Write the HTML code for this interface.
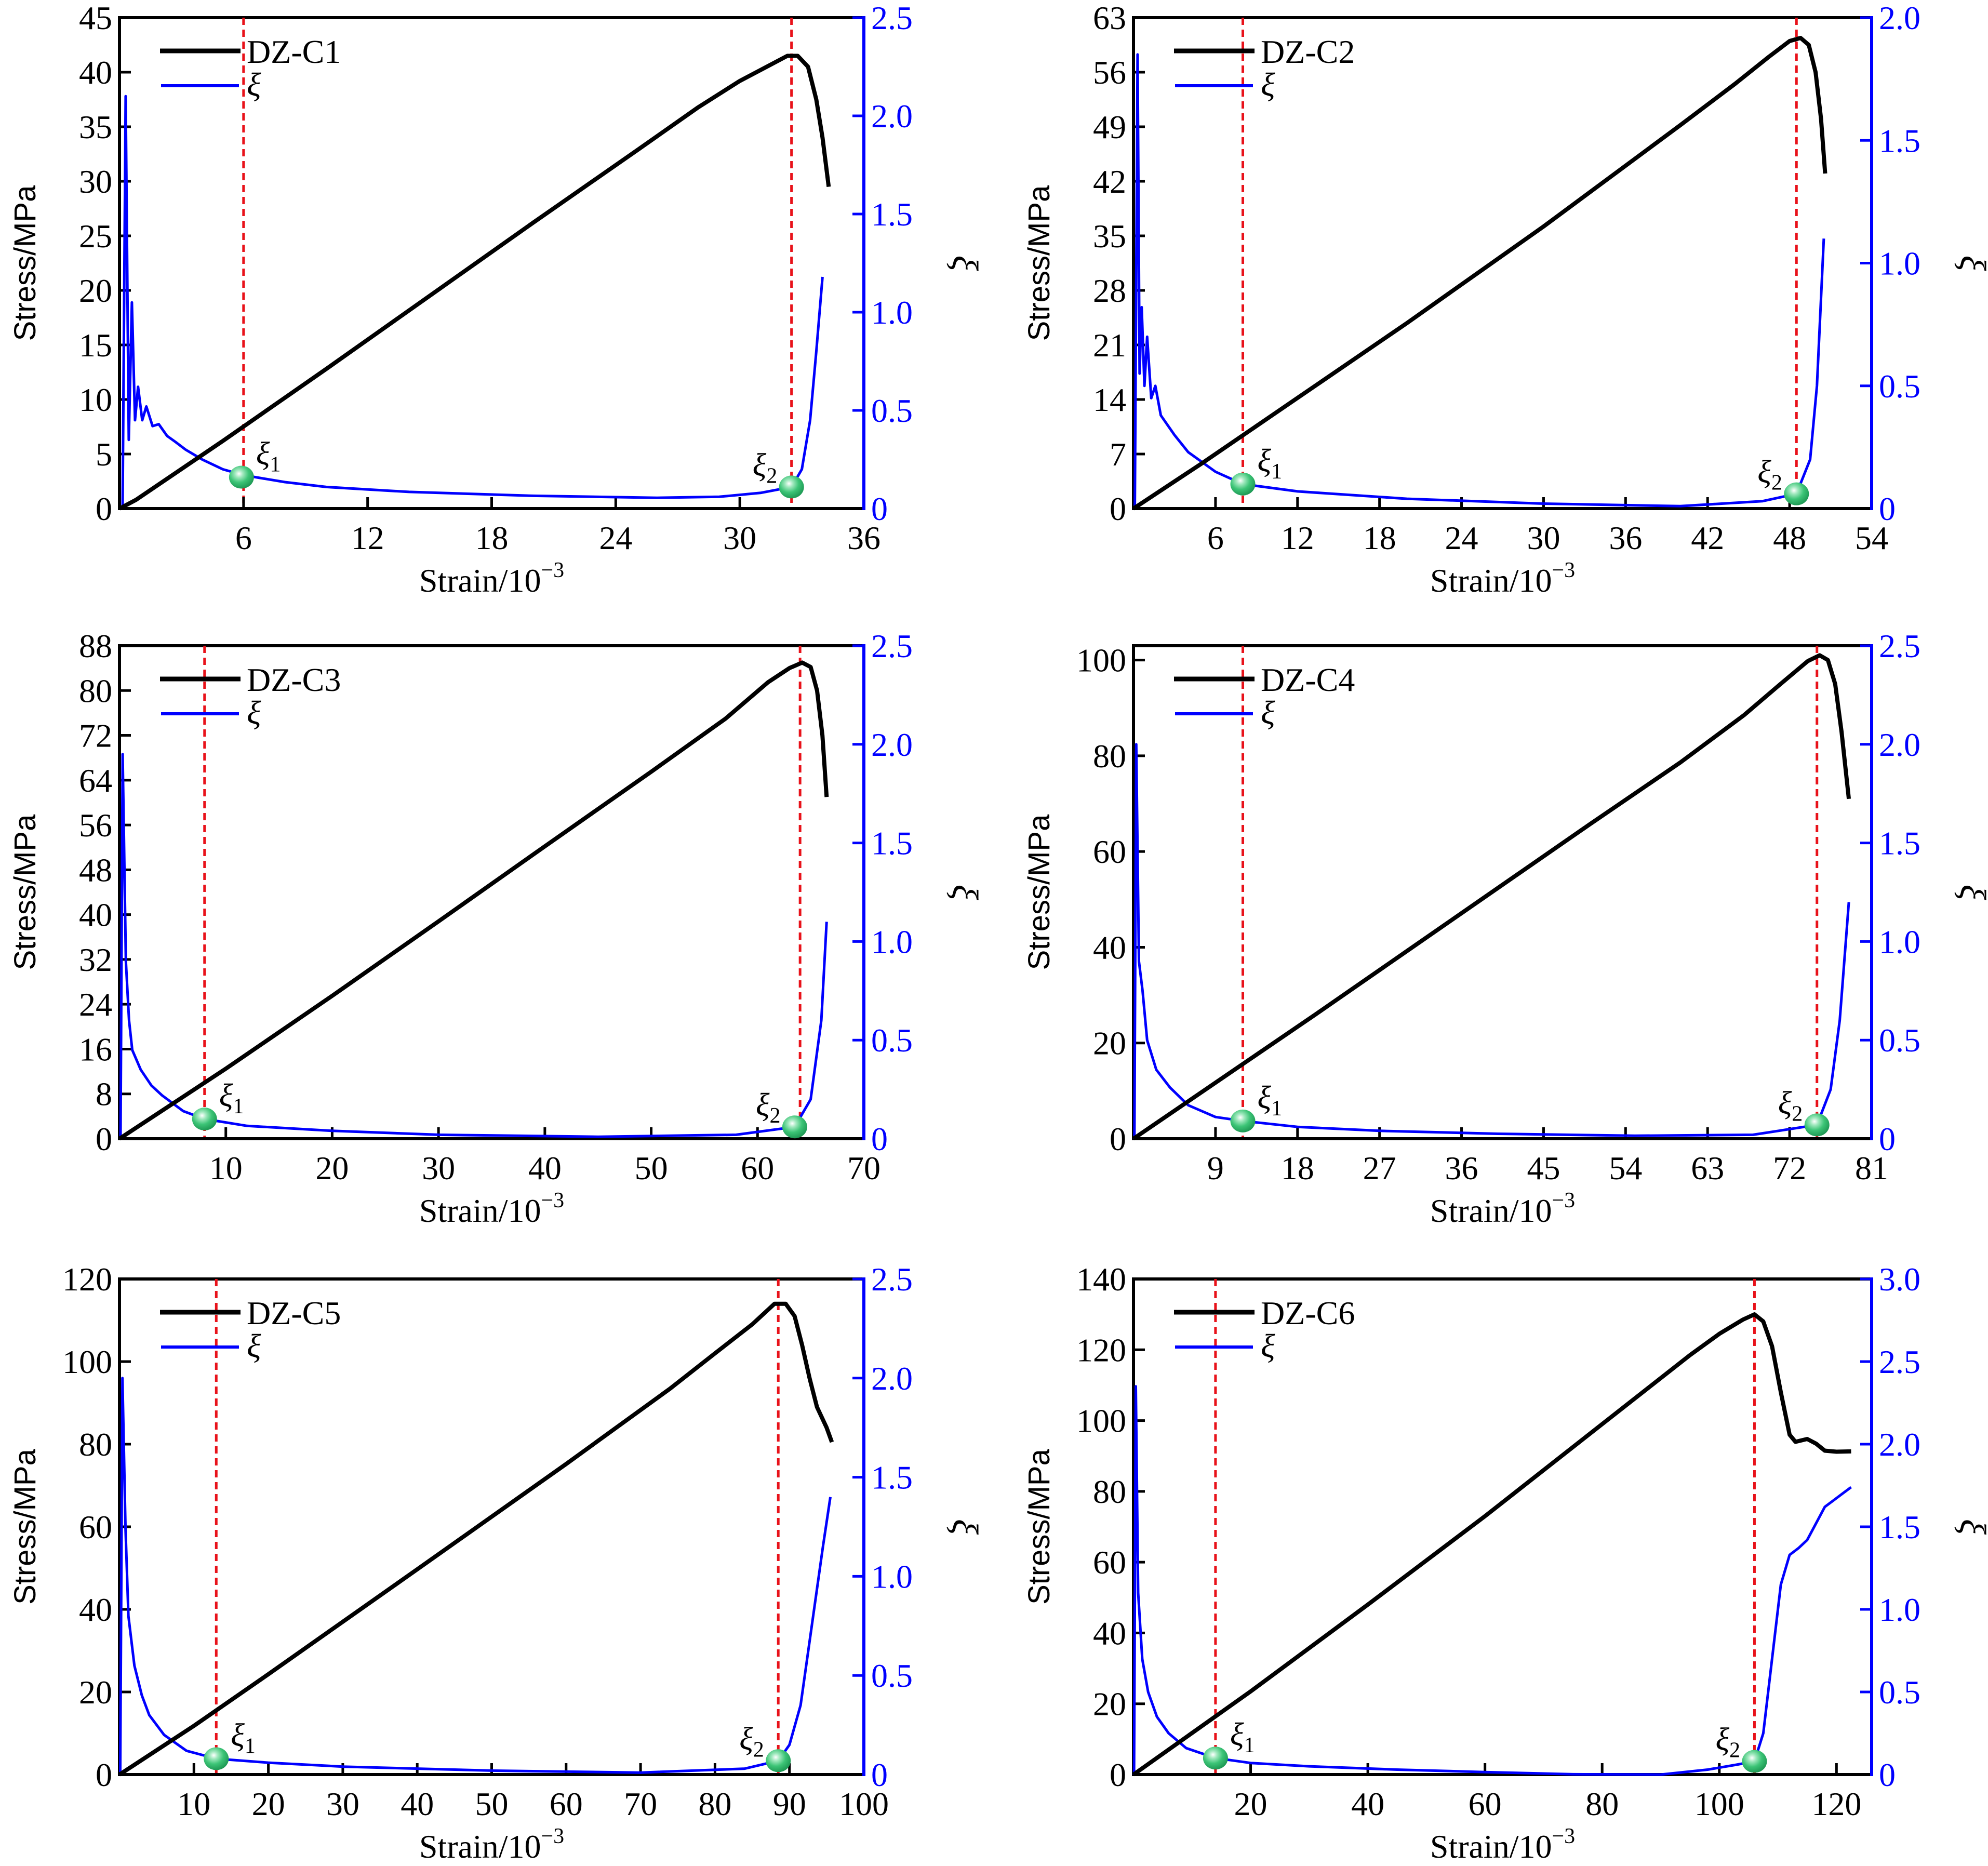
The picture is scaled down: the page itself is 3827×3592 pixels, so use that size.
<!DOCTYPE html>
<html><head><meta charset="utf-8">
<style>
html,body{margin:0;padding:0;background:#fff;}
svg{display:block;}
text{font-family:"Liberation Serif","DejaVu Serif",serif;}
</style></head>
<body>
<svg id="fig" xmlns="http://www.w3.org/2000/svg" width="3827" height="3592" viewBox="0 0 3827 3592">
<defs>
<radialGradient id="ball" cx="0.4" cy="0.35" r="0.65">
<stop offset="0" stop-color="#ffffff"/>
<stop offset="0.25" stop-color="#9fe8bd"/>
<stop offset="0.6" stop-color="#3cc476"/>
<stop offset="1" stop-color="#1f9a55"/>
</radialGradient>
</defs>
</svg>
<script>
// ---- data arrays (top level) ----
const panelNames = ["DZ-C1","DZ-C2","DZ-C3","DZ-C4","DZ-C5","DZ-C6"];
const xMax = [36,54,70,81,100,126];
const xTicks1 = [6,12,18,24,30,36];
const xTicks2 = [6,12,18,24,30,36,42,48,54];
const xTicks3 = [10,20,30,40,50,60,70];
const xTicks4 = [9,18,27,36,45,54,63,72,81];
const xTicks5 = [10,20,30,40,50,60,70,80,90,100];
const xTicks6 = [20,40,60,80,100,120];
const yMax = [45,63,88,103,120,140];
const yTicks1 = [0,5,10,15,20,25,30,35,40,45];
const yTicks2 = [0,7,14,21,28,35,42,49,56,63];
const yTicks3 = [0,8,16,24,32,40,48,56,64,72,80,88];
const yTicks4 = [0,20,40,60,80,100];
const yTicks5 = [0,20,40,60,80,100,120];
const yTicks6 = [0,20,40,60,80,100,120,140];
const rMax = [2.5,2.0,2.5,2.5,2.5,3.0];
const rTicks1 = [0,0.5,1.0,1.5,2.0,2.5];
const rTicks2 = [0,0.5,1.0,1.5,2.0];
const rTicks6 = [0,0.5,1.0,1.5,2.0,2.5,3.0];
const redLines = [[6,32.5],[8,48.5],[8,64],[12,75],[13,88.5],[14,106]];
const xi1Pts = [[5.9,0.16],[8,0.1],[8,0.1],[12,0.09],[13,0.08],[14,0.1]];
const xi2Pts = [[32.5,0.11],[48.5,0.06],[63.5,0.06],[75,0.07],[88.5,0.07],[106,0.08]];
const stress1 = [[0,0],[0.8,0.8],[5,6.2],[10,12.8],[15,19.5],[20,26.2],[25,32.8],[28,36.8],[30,39.2],[31.5,40.7],[32.3,41.5],[32.8,41.5],[33.3,40.5],[33.7,37.5],[34,34],[34.3,29.5]];
const stress2 = [[0,0],[5,5.8],[10,11.8],[20,23.8],[30,36.2],[40,49.2],[44,54.5],[46.5,58],[48,60],[48.8,60.4],[49.4,59.5],[49.9,56],[50.3,50],[50.6,43]];
const stress3 = [[0,0],[10,12.5],[20,25.5],[30,38.8],[40,52.2],[50,65.5],[57,75],[61,81.5],[63,84],[64.2,85],[65,84.2],[65.6,80],[66.1,72],[66.5,61]];
const stress4 = [[0,0],[10,13],[20,26],[30,39.2],[40,52.4],[50,65.6],[60,78.6],[67,88.5],[71,95],[74,99.8],[75.3,101],[76.2,100],[77,95],[77.7,85],[78.5,71]];
const stress5 = [[0,0],[10,11.8],[20,24.3],[40,49.7],[60,75.2],[74,93.5],[80,102],[85,109],[88,114],[89.5,114],[90.7,111],[91.7,104],[92.7,96],[93.7,89],[95,84],[95.7,80.5]];
const stress6 = [[0,0],[20,23.5],[40,48],[60,73],[80,99],[95,118.5],[100,124.5],[104,128.5],[106,130],[107.5,128],[109,121],[110.5,108],[112,96],[113,94],[115,94.8],[116.5,93.5],[118,91.5],[120,91.2],[122.5,91.3]];
const xi1 = [[0.15,0],[0.3,2.1],[0.45,0.35],[0.6,1.05],[0.75,0.45],[0.9,0.62],[1.1,0.45],[1.3,0.52],[1.6,0.42],[1.9,0.43],[2.3,0.37],[2.7,0.34],[3.2,0.3],[4,0.25],[5,0.2],[6,0.17],[8,0.135],[10,0.11],[14,0.085],[20,0.065],[26,0.055],[29,0.06],[31,0.08],[32.5,0.11],[33,0.2],[33.4,0.45],[33.7,0.8],[34,1.18]];
const xi2 = [[0.1,0],[0.3,1.85],[0.45,0.55],[0.6,0.82],[0.8,0.5],[1,0.7],[1.3,0.45],[1.6,0.5],[2,0.38],[3,0.3],[4,0.23],[6,0.15],[8,0.1],[12,0.07],[20,0.04],[30,0.02],[40,0.01],[46,0.03],[48.5,0.06],[49.5,0.2],[50,0.5],[50.5,1.1]];
const xi3 = [[0.1,0],[0.3,1.95],[0.6,0.9],[0.9,0.6],[1.2,0.45],[2,0.35],[3,0.27],[4,0.22],[6,0.14],[8,0.1],[12,0.065],[20,0.04],[30,0.02],[45,0.01],[58,0.02],[63.5,0.06],[65,0.2],[66,0.6],[66.5,1.1]];
const xi4 = [[0.1,0],[0.3,2.0],[0.6,0.9],[1,0.75],[1.5,0.5],[2.5,0.35],[4,0.26],[6,0.17],[9,0.11],[12,0.09],[18,0.06],[27,0.04],[40,0.025],[55,0.015],[68,0.02],[75,0.07],[76.5,0.25],[77.5,0.6],[78.5,1.2]];
const xi5 = [[0.1,0],[0.4,2.0],[0.8,1.25],[1.2,0.8],[2,0.55],[3,0.4],[4,0.3],[6,0.2],[9,0.12],[13,0.08],[20,0.06],[30,0.04],[50,0.02],[70,0.01],[84,0.03],[88.5,0.07],[90,0.15],[91.5,0.35],[93,0.75],[94.5,1.15],[95.5,1.4]];
const xi6 = [[0.1,0],[0.4,2.35],[0.8,1.1],[1.5,0.7],[2.5,0.5],[4,0.35],[6,0.25],[9,0.16],[14,0.1],[20,0.07],[30,0.05],[45,0.03],[60,0.015],[75,0.002],[90,0.0],[98,0.03],[103,0.06],[106,0.08],[107.5,0.25],[109,0.7],[110.5,1.15],[112,1.33],[113.5,1.37],[115,1.42],[116.5,1.52],[118,1.62],[119.5,1.66],[121,1.7],[122.5,1.74]];

const xTicksAll=[xTicks1,xTicks2,xTicks3,xTicks4,xTicks5,xTicks6];
const yTicksAll=[yTicks1,yTicks2,yTicks3,yTicks4,yTicks5,yTicks6];
const rTicksAll=[rTicks1,rTicks2,rTicks1,rTicks1,rTicks1,rTicks6];
const stressAll=[stress1,stress2,stress3,stress4,stress5,stress6];
const xiAll=[xi1,xi2,xi3,xi4,xi5,xi6];

const NS="http://www.w3.org/2000/svg";
const svg=document.getElementById('fig');
function mk(tag,attrs,parent){const e=document.createElementNS(NS,tag);for(const k in attrs)e.setAttribute(k,attrs[k]);(parent||svg).appendChild(e);return e;}
const lefts=[230,2182], rights=[1663,3603];
const tops=[34,1243,2462], bots=[979,2192,3416];
const FS=64;

for(let p=0;p<6;p++){
  const c=p%2, r=Math.floor(p/2);
  const L=lefts[c],R=rights[c],T=tops[r],B=bots[r];
  const g=mk('g',{});
  
  
  const sx=v=>L+(R-L)*v/xMax[p];
  const sy=v=>B-(B-T)*v/yMax[p];
  const sr=v=>B-(B-T)*v/rMax[p];
  const fr=mk('path',{d:`M${L},${B}L${L},${T}L${R},${T}`,fill:'none',stroke:'#000','stroke-width':6},g);
  
  
  redLines[p].forEach(v=>{
    const l=mk('line',{x1:sx(v),x2:sx(v),y1:T,y2:B,stroke:'#e8121a','stroke-width':5,'stroke-dasharray':'14,9'},g);
    
    
  });
  xTicksAll[p].forEach(v=>{
    mk('line',{x1:sx(v),x2:sx(v),y1:B,y2:B-22,stroke:'#000','stroke-width':5},g);
    const t=mk('text',{x:sx(v),y:B+78,'font-size':FS,'text-anchor':'middle',fill:'#000'},g);
    t.textContent=v;
    
    
  });
  yTicksAll[p].forEach(v=>{
    mk('line',{x1:L,x2:L+22,y1:sy(v),y2:sy(v),stroke:'#000','stroke-width':5},g);
    const t=mk('text',{x:L-14,y:sy(v)+22,'font-size':FS,'text-anchor':'end',fill:'#000'},g);
    t.textContent=v;
    
    
  });
  rTicksAll[p].forEach(v=>{
    mk('line',{x1:R,x2:R-22,y1:sr(v),y2:sr(v),stroke:'#0000ff','stroke-width':5},g);
    const t=mk('text',{x:R+14,y:sr(v)+22,'font-size':FS,'text-anchor':'start',fill:'#0000ff'},g);
    t.textContent=v===0?'0':v.toFixed(1);
    
    
  });
  const xa=mk('line',{x1:L-3,x2:R,y1:B,y2:B,stroke:'#000','stroke-width':6},g);
  
  
  const ra=mk('line',{x1:R,x2:R,y1:T-3,y2:B+3,stroke:'#0000ff','stroke-width':6},g);
  
  
  const xiD=xiAll[p].map((q,i)=>(i?'L':'M')+sx(q[0]).toFixed(1)+','+sr(q[1]).toFixed(1)).join('');
  const xc=mk('path',{d:xiD,fill:'none',stroke:'#0000ff','stroke-width':5,'stroke-linejoin':'round'},g);
  
  
  const sD=stressAll[p].map((q,i)=>(i?'L':'M')+sx(q[0]).toFixed(1)+','+sy(q[1]).toFixed(1)).join('');
  const sc=mk('path',{d:sD,fill:'none',stroke:'#000','stroke-width':8,'stroke-linejoin':'round'},g);
  
  
  [[xi1Pts[p],'1'],[xi2Pts[p],'2']].forEach(([pt,k])=>{
    const cx=sx(pt[0]),cy=sr(pt[1]);
    const b=mk('ellipse',{cx:cx,cy:cy,rx:24,ry:22,fill:'url(#ball)'},g);
    
    
    const tx = k==='1'? cx+28 : cx-75;
    const ty = k==='1'? cy-25 : cy-22;
    const t=mk('text',{x:tx,y:ty,'font-size':62,'font-style':'italic',fill:'#000'},g);
    t.textContent='ξ';
    const s=mk('tspan',{'font-size':42,'font-style':'normal',dy:14},t);
    s.textContent=k;
    
    
  });
  const lg=mk('g',{},g);
  
  
  mk('line',{x1:L+78,x2:L+233,y1:T+64,y2:T+64,stroke:'#000','stroke-width':9},lg);
  const lt=mk('text',{x:L+245,y:T+87,'font-size':FS,fill:'#000'},lg);
  lt.textContent=panelNames[p];
  
  
  mk('line',{x1:L+80,x2:L+230,y1:T+131,y2:T+131,stroke:'#0000ff','stroke-width':6},lg);
  const lx=mk('text',{x:L+245,y:T+150,'font-size':FS,'font-style':'italic',fill:'#000'},lg);
  lx.textContent='ξ';
  
  
  const xt=mk('text',{x:(L+R)/2,y:B+160,'font-size':FS,'text-anchor':'middle',fill:'#000'},g);
  xt.textContent='Strain/10';
  const sup=mk('tspan',{'font-size':42,dy:-28},xt);
  sup.textContent='−3';
  
  
  const yt=mk('text',{x:0,y:0,'font-size':58,'text-anchor':'middle',fill:'#000',transform:`translate(${L-162},${(T+B)/2}) rotate(-90)`,style:'font-family:"Liberation Sans",sans-serif'},g);
  yt.textContent='Stress/MPa';
  
  
  const rt=mk('text',{x:0,y:0,'font-size':70,'font-style':'italic','text-anchor':'middle',fill:'#000',transform:`translate(${R+172},${(T+B)/2}) rotate(90)`},g);
  rt.textContent='ξ';
  
  
}
</script>
</body></html>
